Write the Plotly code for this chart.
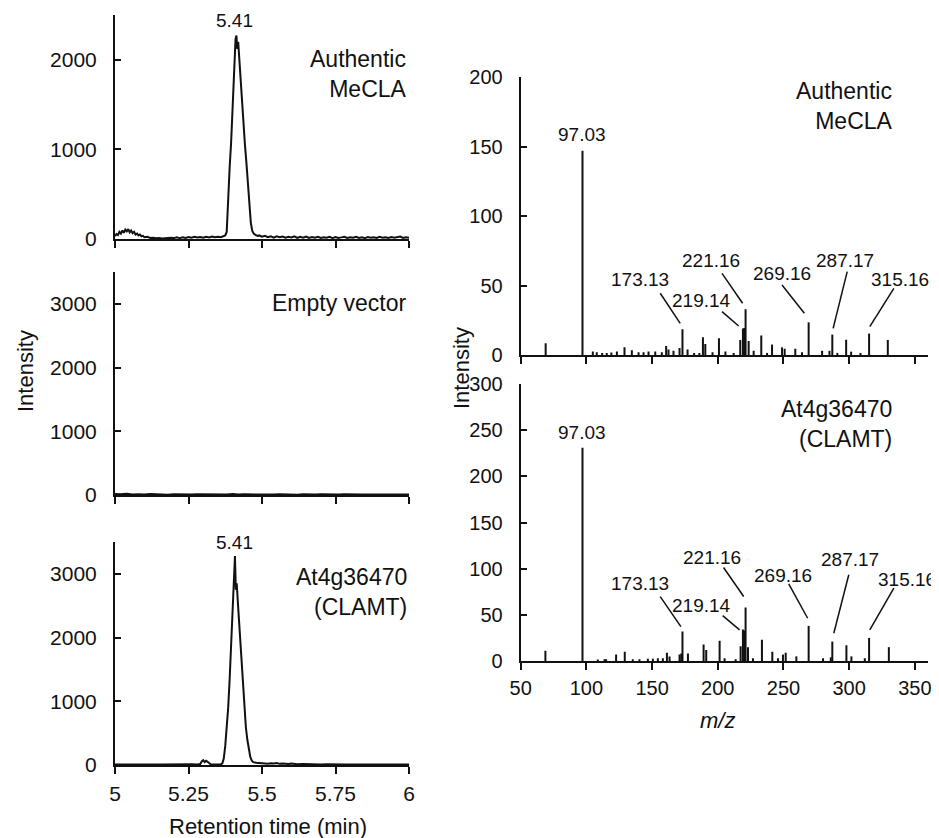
import plotly.graph_objects as go

# page body has an 8px margin; figure sized so it fills the window from there
OFF = 8
W, H = 931, 830

# ---------------- Chromatogram data (retention time in min, intensity) ----------------
rt_authentic = [5.000, 5.005, 5.010, 5.015, 5.020, 5.025, 5.030, 5.035, 5.040, 5.045, 5.050, 5.055, 5.060,
                5.065, 5.070, 5.075, 5.080, 5.085, 5.090, 5.095, 5.100, 5.110, 5.120, 5.130, 5.140, 5.150,
                5.160, 5.170, 5.180, 5.190, 5.200, 5.210, 5.220, 5.230, 5.240, 5.250, 5.260, 5.270, 5.280,
                5.290, 5.300, 5.310, 5.320, 5.330, 5.340, 5.350, 5.360, 5.370, 5.375, 5.380, 5.383, 5.386,
                5.390, 5.395, 5.400, 5.405, 5.410, 5.413, 5.416, 5.419, 5.423, 5.427, 5.432, 5.437, 5.442,
                5.447, 5.452, 5.457, 5.462, 5.467, 5.472, 5.478, 5.485, 5.490, 5.500, 5.510, 5.520, 5.530,
                5.540, 5.550, 5.560, 5.570, 5.580, 5.590, 5.600, 5.610, 5.620, 5.630, 5.640, 5.650, 5.660,
                5.670, 5.680, 5.690, 5.700, 5.710, 5.720, 5.730, 5.740, 5.750, 5.760, 5.770, 5.780, 5.790,
                5.800, 5.810, 5.820, 5.830, 5.840, 5.850, 5.860, 5.870, 5.880, 5.890, 5.900, 5.910, 5.920,
                5.930, 5.940, 5.950, 5.960, 5.970, 5.980, 5.990, 6.000]
int_authentic = [30, 55, 45, 80, 60, 95, 70, 105, 85, 110, 75, 95, 65,
                 80, 50, 60, 40, 50, 30, 35, 20, 25, 12, 15, 8, 12,
                 5, 10, 8, 15, 10, 18, 10, 20, 12, 22, 15, 25, 18,
                 22, 15, 25, 18, 28, 20, 25, 20, 30, 40, 80, 350, 600,
                 800, 1080, 1450, 1950, 2230, 2270, 2120, 2200, 2000, 1750, 1450, 1250, 1050,
                 850, 600, 350, 180, 90, 60, 45, 35, 40, 25, 35, 20, 30,
                 15, 30, 20, 28, 15, 25, 18, 30, 12, 25, 15, 28, 12,
                 22, 15, 25, 12, 20, 15, 25, 10, 22, 12, 18, 25, 12,
                 20, 15, 25, 12, 18, 10, 22, 15, 20, 12, 25, 15, 20,
                 12, 22, 15, 18, 28, 12, 20, 15]

rt_empty = [5.00, 5.02, 5.04, 5.06, 5.08, 5.10, 5.12, 5.14, 5.16, 5.18, 5.20, 5.22, 5.24, 5.26, 5.28,
            5.30, 5.32, 5.34, 5.36, 5.38, 5.40, 5.42, 5.44, 5.46, 5.48, 5.50, 5.52, 5.54, 5.56, 5.58,
            5.60, 5.62, 5.64, 5.66, 5.68, 5.70, 5.72, 5.74, 5.76, 5.78, 5.80, 5.82, 5.84, 5.86, 5.88,
            5.90, 5.92, 5.94, 5.96, 5.98, 6.00]
int_empty = [15, 10, 18, 8, 12, 6, 14, 8, 10, 5, 12, 8, 15, 6, 10,
             8, 12, 5, 10, 8, 14, 6, 10, 8, 12, 5, 10, 7, 12, 6,
             9, 5, 11, 6, 8, 10, 5, 9, 6, 10, 5, 8, 6, 9, 5,
             8, 6, 9, 5, 7, 6]

rt_clamt = [5.000, 5.020, 5.040, 5.060, 5.080, 5.100, 5.120, 5.140, 5.160, 5.180, 5.200, 5.220, 5.240,
            5.260, 5.280, 5.290, 5.295, 5.300, 5.305, 5.310, 5.315, 5.320, 5.325, 5.330, 5.340, 5.350,
            5.360, 5.365, 5.370, 5.375, 5.380, 5.385, 5.390, 5.395, 5.400, 5.405, 5.408, 5.411, 5.414,
            5.420, 5.425, 5.430, 5.435, 5.440, 5.445, 5.450, 5.455, 5.460, 5.465, 5.470, 5.480, 5.490,
            5.500, 5.510, 5.520, 5.530, 5.540, 5.550, 5.560, 5.570, 5.580, 5.590, 5.600, 5.620, 5.640,
            5.660, 5.680, 5.700, 5.720, 5.740, 5.760, 5.780, 5.800, 5.820, 5.840, 5.860, 5.880, 5.900,
            5.920, 5.940, 5.960, 5.980, 6.000]
int_clamt = [8, 5, 10, 6, 8, 5, 9, 6, 8, 10, 6, 9, 7,
             10, 8, 15, 55, 75, 45, 65, 50, 30, 12, 8, 6, 8,
             10, 25, 100, 300, 550, 900, 1350, 1950, 2600, 3100, 3280, 2750, 2850,
             2400, 2050, 1600, 1200, 900, 600, 400, 250, 130, 70, 45, 35, 30,
             25, 30, 20, 28, 22, 30, 18, 25, 20, 15, 22, 12, 15,
             10, 12, 8, 12, 7, 10, 6, 9, 7, 10, 6, 8, 7,
             9, 6, 8, 7, 6]

peak_rt = [5.41, None, 5.41]

# ---------------- Mass spectra (m/z, intensity) ----------------
mz_authentic = [69.0, 97.03, 104.9, 107.9, 112.0, 115.5, 119.0, 123.2, 129.0, 134.6, 139.7, 143.5, 147.3,
                152.4, 157.4, 160.7, 162.5, 166.3, 170.9, 173.13, 177.0, 182.0, 186.0, 188.7, 190.5, 196.0,
                200.9, 205.8, 212.1, 217.1, 219.14, 220.15, 221.16, 223.5, 227.3, 233.1, 237.5, 241.3, 248.9,
                250.9, 259.0, 264.1, 269.16, 279.4, 285.0, 287.17, 291.0, 297.7, 301.5, 308.6, 315.16, 329.4]
ab_authentic = [8.5, 147, 2.5, 2.0, 1.5, 1.5, 1.8, 2.5, 5.5, 3.5, 2.0, 2.0, 2.5,
                2.5, 2.0, 6.5, 4.0, 3.0, 5.0, 18.5, 4.0, 1.5, 1.5, 12.7, 8.0, 2.0,
                12.0, 2.5, 1.5, 10.8, 19.0, 19.5, 33.0, 10.0, 3.0, 14.0, 1.5, 7.5, 5.5,
                4.5, 4.5, 2.0, 23.5, 3.0, 3.0, 14.7, 1.5, 11.0, 2.4, 1.5, 15.4, 10.8]

mz_clamt = [68.8, 97.03, 108.7, 113.8, 115.0, 122.6, 129.2, 135.3, 140.4, 146.8, 150.6, 154.4, 158.2,
            161.3, 163.3, 170.9, 172.2, 173.13, 177.3, 189.2, 191.2, 201.4, 205.2, 213.6, 217.4, 219.14,
            220.15, 221.16, 223.0, 226.8, 233.6, 241.5, 245.8, 249.6, 251.7, 259.8, 269.16, 280.1, 286.0,
            287.17, 297.9, 301.7, 311.9, 315.16, 330.2]
ab_clamt = [11, 231, 1.5, 2, 2, 7, 10, 2, 2, 2.5, 2.5, 3, 3,
            9, 5, 7, 8, 32, 8, 18, 12, 22, 3, 2, 16, 34,
            33, 58, 15, 3, 23, 10, 3, 7, 9, 5, 38, 3, 4,
            21, 17, 5, 3, 25, 15]

# peak labels: text, text position (m/z, intensity), leader line start and end
ion_labels = ["173.13", "219.14", "221.16", "269.16", "287.17", "315.16"]
lab_auth_pos = [(141.0, 54.0), (187.9, 39.1), (195.0, 68.3), (248.9, 58.8), (297.2, 68.3), (339.0, 54.0)]
lab_auth_from = [(156.2, 44.4), (203.2, 31.2), (203.2, 58.7), (248.9, 50.4), (298.5, 60.0), (334.0, 48.0)]
lab_auth_to = [(171.4, 22.8), (215.9, 20.9), (218.9, 37.2), (265.9, 30.0), (287.8, 19.2), (315.7, 20.4)]
lab_clamt_pos = [(140.9, 83.5), (187.9, 60.4), (195.5, 112.6), (249.6, 92.3), (300.4, 110.4), (344.0, 88.7)]
lab_clamt_from = [(156.2, 69.8), (203.7, 49.2), (204.4, 101.3), (254.0, 83.6), (299.7, 93.4), (334.0, 78.9)]
lab_clamt_to = [(171.9, 37.3), (216.6, 33.7), (219.7, 69.9), (268.4, 46.3), (288.3, 30.0), (315.7, 33.7)]

rt_ticks = [5, 5.25, 5.5, 5.75, 6]
rt_ticktext = ["5", "5.25", "5.5", "5.75", "6"]
mz_ticks = [50, 100, 150, 200, 250, 300, 350]

FONT = "Liberation Sans, Arial, sans-serif"
INK = "#111111"


def px_x(p):
    return (p - OFF) / W


def px_y(p):
    return 1 - (p - OFF) / H


fig = go.Figure()

# chromatograms
for i, (rt, it) in enumerate([(rt_authentic, int_authentic), (rt_empty, int_empty), (rt_clamt, int_clamt)]):
    n = "" if i == 0 else str(i + 1)
    fig.add_trace(go.Scatter(x=rt, y=it, mode="lines", line=dict(color=INK, width=2),
                             xaxis="x" + n, yaxis="y" + n, hoverinfo="skip", showlegend=False))


def stems(mz, ab):
    xs, ys = [], []
    for m, a in zip(mz, ab):
        xs += [m, m, None]
        ys += [0, a, None]
    return xs, ys


for k, (mz, ab) in zip([4, 5], [(mz_authentic, ab_authentic), (mz_clamt, ab_clamt)]):
    xs, ys = stems(mz, ab)
    fig.add_trace(go.Scatter(x=xs, y=ys, mode="lines", line=dict(color=INK, width=2),
                             xaxis="x%d" % k, yaxis="y%d" % k, hoverinfo="skip", showlegend=False))

left_x = [px_x(115), px_x(409)]
right_x = [px_x(520.7), px_x(928)]
ydoms = {
    "": [px_y(239), px_y(15)],
    "2": [px_y(495), px_y(272)],
    "3": [px_y(765), px_y(542)],
    "4": [px_y(355), px_y(77)],
    "5": [px_y(661), px_y(384)],
}

common_x = dict(showline=True, linecolor=INK, linewidth=2, ticks="outside", ticklen=7, tickwidth=2,
                tickcolor=INK, showgrid=False, zeroline=False, fixedrange=True, automargin=False,
                tickfont=dict(family=FONT, size=21, color=INK))
common_y = dict(showline=True, linecolor=INK, linewidth=2, ticks="inside", ticklen=6, tickwidth=2,
                tickcolor=INK, showgrid=False, zeroline=False, fixedrange=True, automargin=False,
                tickfont=dict(family=FONT, size=21, color=INK), ticklabelstandoff=12)

lay = {}
for n, yr, tv, show in [("", [0, 2500], [0, 1000, 2000], False),
                        ("2", [0, 3500], [0, 1000, 2000, 3000], False),
                        ("3", [0, 3500], [0, 1000, 2000, 3000], True)]:
    lay["xaxis" + n] = dict(common_x, domain=left_x, range=[5, 6], tickvals=rt_ticks, ticktext=rt_ticktext,
                            showticklabels=show, anchor="y" + n, ticklabelstandoff=2)
    lay["yaxis" + n] = dict(common_y, domain=ydoms[n], range=yr, tickvals=tv, anchor="x" + n)

for n, yr, tv, show in [("4", [0, 200], [0, 50, 100, 150, 200], False),
                        ("5", [0, 300], [0, 50, 100, 150, 200, 250, 300], True)]:
    lay["xaxis" + n] = dict(common_x, domain=right_x, range=[50, 360], tickvals=mz_ticks,
                            showticklabels=show, anchor="y" + n, ticklabelstandoff=1,
                            tickfont=dict(family=FONT, size=20, color=INK))
    lay["yaxis" + n] = dict(common_y, domain=ydoms[n], range=yr, tickvals=tv, anchor="x" + n,
                            tickfont=dict(family=FONT, size=20, color=INK))

fig.update_layout(template="none", width=W, height=H, margin=dict(l=0, r=0, t=0, b=0, autoexpand=False),
                  paper_bgcolor="white", plot_bgcolor="white", showlegend=False, **lay)

ann = []
# axis titles
ann.append(dict(text="Intensity", x=px_x(25), y=px_y(371), textangle=-90, font=dict(size=22)))
ann.append(dict(text="Intensity", x=px_x(461), y=px_y(368), textangle=-90, font=dict(size=22)))
ann.append(dict(text="Retention time (min)", x=px_x(268), y=px_y(826), font=dict(size=22)))
ann.append(dict(text="<i>m/z</i>", x=px_x(717), y=px_y(720), font=dict(size=22)))

# panel labels
for txt, xr, yc in [("Authentic<br>MeCLA", 409, 74), ("Empty vector", 409, 303),
                    ("At4g36470<br>(CLAMT)", 409, 592), ("Authentic<br>MeCLA", 895, 106),
                    ("At4g36470<br>(CLAMT)", 894, 424)]:
    ann.append(dict(text=txt, x=px_x(xr), y=px_y(yc), xanchor="right", align="right",
                    font=dict(size=23)))

for a in ann:
    a.setdefault("xref", "paper")
    a.setdefault("yref", "paper")
    a.setdefault("showarrow", False)
    a.setdefault("xanchor", "center")
    a.setdefault("yanchor", "middle")
    a["font"] = dict(family=FONT, color=INK, **a["font"])

small = dict(family=FONT, size=19, color=INK)
# retention-time labels
ann.append(dict(text="5.41", x=peak_rt[0] - 0.005, y=2439, xref="x", yref="y", showarrow=False,
                xanchor="center", yanchor="middle", font=small))
ann.append(dict(text="5.41", x=peak_rt[2] - 0.005, y=3493, xref="x3", yref="y3", showarrow=False,
                xanchor="center", yanchor="middle", font=small))

# base-peak labels
ann.append(dict(text="97.03", x=mz_authentic[1], y=158.6, xref="x4", yref="y4", showarrow=False,
                xanchor="center", yanchor="middle", font=small))
ann.append(dict(text="97.03", x=mz_clamt[1], y=248, xref="x5", yref="y5", showarrow=False,
                xanchor="center", yanchor="middle", font=small))

shapes = []
for k, pos, frm, to in [(4, lab_auth_pos, lab_auth_from, lab_auth_to),
                        (5, lab_clamt_pos, lab_clamt_from, lab_clamt_to)]:
    for t, p, f, e in zip(ion_labels, pos, frm, to):
        ann.append(dict(text=t, x=p[0], y=p[1], xref="x%d" % k, yref="y%d" % k, showarrow=False,
                        xanchor="center", yanchor="middle", font=small))
        shapes.append(dict(type="line", x0=f[0], y0=f[1], x1=e[0], y1=e[1], xref="x%d" % k,
                           yref="y%d" % k, line=dict(color=INK, width=1.5)))

fig.update_layout(annotations=ann, shapes=shapes)
fig.write_html("out.html")
